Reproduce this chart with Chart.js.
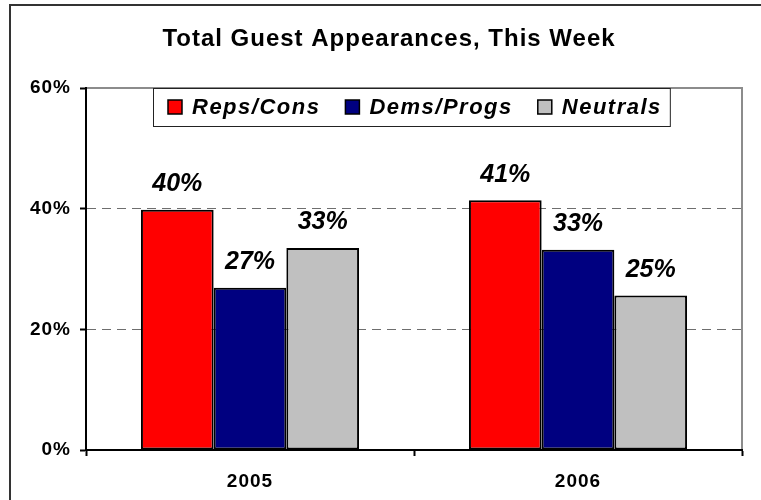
<!DOCTYPE html>
<html lang="en">
<head>
<meta charset="UTF-8">
<title>Total Guest Appearances, This Week</title>
<style>
  body { margin: 0; background: #fff; overflow: hidden; }
  #frame {
    position: absolute; left: 9px; top: 4px; width: 752px; height: 500px;
    border-left: 2px solid #333; border-top: 2px solid #333;
  }
  #chart { position: absolute; left: 0; top: 0; }
</style>
<script src="https://cdn.jsdelivr.net/npm/chart.js"></script>
</head>
<body>
<div id="frame"></div>
<canvas id="chart" width="761" height="500"></canvas>
<script>
// data
var years = ['2005', '2006'];
var seriesNames = ['Reps/Cons', 'Dems/Progs', 'Neutrals'];
var repsValues = [39.8, 41.4];
var demsValues = [26.9, 33.2];
var neutralValues = [33.5, 25.6];
var repsLabels = ['40%', '41%'];
var demsLabels = ['27%', '33%'];
var neutralLabels = ['33%', '25%'];
var yTicks = [0, 20, 40, 60];
var chartTitle = 'Total Guest Appearances, This Week';

var FONT = 'Liberation Sans, Arial, sans-serif';
Chart.defaults.font.family = FONT;
Chart.defaults.color = '#000';

// slightly wider letters, like the original
var spacing = {
    id: 'spacing',
    beforeDraw: function (chart) {
        chart.ctx.letterSpacing = '1px';
    }
};

// title, centred a bit left of the plot (as in the original)
var titleText = {
    id: 'titleText',
    afterDraw: function (chart) {
        var ctx = chart.ctx;
        ctx.save();
        ctx.font = 'bold 24px ' + FONT;
        ctx.letterSpacing = '1px';
        ctx.fillStyle = '#000';
        ctx.textAlign = 'center';
        ctx.textBaseline = 'alphabetic';
        ctx.fillText(chartTitle, (chart.chartArea.right + 36) / 2, 46);
        ctx.restore();
    }
};

// grey frame on top and right of the plot area
var plotFrame = {
    id: 'plotFrame',
    beforeDraw: function (chart) {
        var a = chart.chartArea, ctx = chart.ctx;
        ctx.save();
        ctx.strokeStyle = '#8c8c8c';
        ctx.lineWidth = 2;
        ctx.beginPath();
        ctx.moveTo(a.left, a.top);
        ctx.lineTo(a.right, a.top);
        ctx.lineTo(a.right, a.bottom);
        ctx.stroke();
        ctx.restore();
    }
};

// percent labels above the bars
var barLabels = {
    id: 'barLabels',
    afterDatasetsDraw: function (chart) {
        var ctx = chart.ctx;
        ctx.save();
        ctx.letterSpacing = '0px';
        ctx.font = 'italic bold 25px ' + FONT;
        ctx.fillStyle = '#000';
        ctx.textAlign = 'center';
        ctx.textBaseline = 'alphabetic';
        chart.data.datasets.forEach(function (ds, i) {
            chart.getDatasetMeta(i).data.forEach(function (bar, j) {
                ctx.fillText(ds.valueLabels[j], bar.x, bar.y - 18.5);
            });
        });
        ctx.restore();
    }
};

// boxed legend sitting inside the plot area
var boxLegend = {
    id: 'boxLegend',
    afterDraw: function (chart) {
        var ctx = chart.ctx, a = chart.chartArea;
        var x0 = a.left + 67, y0 = a.top, h = 38;
        var sq = 14, gap = 10, between = 25;
        ctx.save();
        ctx.font = 'italic bold 22px ' + FONT;
        ctx.letterSpacing = '1.5px';
        var widths = chart.data.datasets.map(function (ds) { return ctx.measureText(ds.label).width; });
        var w = 15;
        widths.forEach(function (tw, i) { w += sq + gap + tw + (i < widths.length - 1 ? between : 0); });
        w += 8;
        ctx.fillStyle = '#fff';
        ctx.fillRect(x0, y0, w, h);
        ctx.strokeStyle = '#222';
        ctx.lineWidth = 1;
        ctx.strokeRect(x0 + 0.5, y0 + 0.5, w, h);
        var x = x0 + 15;
        chart.data.datasets.forEach(function (ds, i) {
            ctx.fillStyle = ds.backgroundColor;
            ctx.fillRect(x, y0 + 12, sq, sq);
            ctx.strokeStyle = '#000';
            ctx.lineWidth = 1.5;
            ctx.strokeRect(x, y0 + 12, sq, sq);
            x += sq + gap;
            ctx.fillStyle = '#000';
            ctx.textBaseline = 'alphabetic';
            ctx.fillText(ds.label, x, y0 + 25.5);
            x += widths[i] + between;
        });
        ctx.restore();
    }
};

var barStyle = { borderColor: '#000', borderWidth: 2, borderSkipped: false,
                 barPercentage: 1, categoryPercentage: 0.665 };

new Chart(document.getElementById('chart'), {
    type: 'bar',
    data: {
        labels: years,
        datasets: [
            Object.assign({ label: seriesNames[0], data: repsValues, valueLabels: repsLabels, backgroundColor: '#ff0000' }, barStyle),
            Object.assign({ label: seriesNames[1], data: demsValues, valueLabels: demsLabels, backgroundColor: '#000080' }, barStyle),
            Object.assign({ label: seriesNames[2], data: neutralValues, valueLabels: neutralLabels, backgroundColor: '#c0c0c0' }, barStyle)
        ]
    },
    options: {
        responsive: false,
        animation: false,
        layout: { padding: { left: 0, right: 19, top: 88, bottom: 0 } },
        plugins: {
            legend: { display: false },
            tooltip: { enabled: false },
            title: { display: false }
        },
        scales: {
            x: {
                offset: true,
                grid: { offset: true, drawOnChartArea: false, tickLength: 6, tickColor: '#000', tickWidth: 2 },
                border: { color: '#000', width: 2 },
                ticks: { font: { size: 19, weight: 'bold' }, color: '#000', padding: 14 },
                afterFit: function (s) { s.height = 50; }
            },
            y: {
                min: 0,
                max: 60,
                afterBuildTicks: function (s) { s.ticks = yTicks.map(function (v) { return { value: v }; }); },
                ticks: {
                    font: { size: 19, weight: 'bold' },
                    color: '#000',
                    padding: 9,
                    callback: function (v) { return v + '%'; }
                },
                grid: {
                    color: function (c) {
                        var v = c.tick ? c.tick.value : null;
                        return (v === 0 || v === 60) ? 'rgba(0,0,0,0)' : '#6e6e6e';
                    },
                    lineWidth: 1,
                    tickLength: 6,
                    tickColor: '#000',
                    tickWidth: 2
                },
                border: { color: '#000', width: 2, dash: [9, 6] },
                afterFit: function (s) { s.width = 86; }
            }
        }
    },
    plugins: [spacing, plotFrame, barLabels, boxLegend, titleText]
});
</script>
</body>
</html>
